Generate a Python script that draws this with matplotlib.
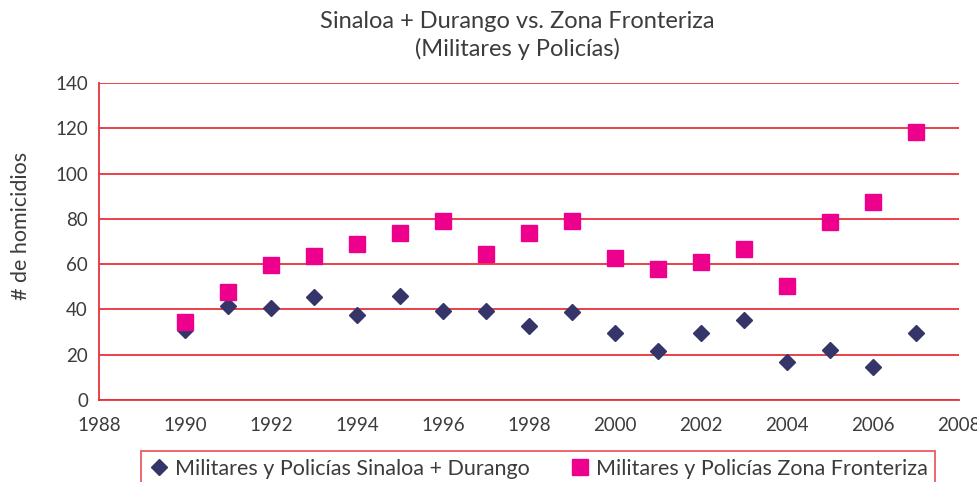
import matplotlib
matplotlib.use("Agg")
import matplotlib.pyplot as plt

years = list(range(1990, 2008))
sinaloa_durango = [31, 41.5, 40.7, 45.5, 37.6, 45.8, 39.5, 39.5, 32.9, 38.9,
                   29.6, 21.7, 29.6, 35.5, 16.9, 22, 14.7, 29.6]
zona_fronteriza = [34.5, 47.9, 59.6, 63.7, 68.7, 73.7, 78.9, 64.5, 73.6, 78.9,
                   62.5, 57.7, 61, 66.8, 50.4, 78.7, 87.4, 118.4]
x_ticks = list(range(1988, 2009, 2))
y_ticks = list(range(0, 141, 20))
label_a = "Militares y Policías Sinaloa + Durango"
label_b = "Militares y Policías Zona Fronteriza"

plt.rcParams['font.family'] = ['Lato', 'DejaVu Sans']
text_color = '#3c3c3c'
red = '#e8303a'

fig = plt.figure(figsize=(9.77, 4.82), dpi=100)
ax = fig.add_axes([99/977, 1 - 400/482, (959 - 99)/977, (400 - 83)/482])

ax.plot(years, sinaloa_durango, linestyle='none', marker='D', markersize=8.5,
        color='#35356a', label=label_a, zorder=3)
ax.plot(years, zona_fronteriza, linestyle='none', marker='s', markersize=11.5,
        color='#ec008c', label=label_b, zorder=3)

ax.set_xlim(1988, 2008)
ax.set_ylim(0, 140)
ax.set_xticks(x_ticks)
ax.set_yticks(y_ticks)
ax.yaxis.grid(True, color=red, linewidth=1.3)
ax.set_axisbelow(True)
for s in ['top', 'right']:
    ax.spines[s].set_visible(False)
for s in ['left', 'bottom']:
    ax.spines[s].set_color(red)
    ax.spines[s].set_linewidth(1.3)
ax.tick_params(axis='y', length=0, labelsize=13.5, colors=text_color, pad=8)
ax.tick_params(axis='x', length=0, labelsize=13.5, colors=text_color, pad=12)
ax.set_ylabel('# de homicidios', fontsize=15.5, color=text_color)
ax.yaxis.set_label_coords(-0.079, 0.55)

fig.text(517/977, 1 - 21/482, 'Sinaloa + Durango vs. Zona Fronteriza',
         ha='center', va='center', fontsize=17, color=text_color)
fig.text(517/977, 1 - 49/482, '(Militares y Policías)',
         ha='center', va='center', fontsize=17, color=text_color)

leg = ax.legend(loc='upper left', bbox_to_anchor=(141/977, 1 - 451/482),
                bbox_transform=fig.transFigure, ncol=2,
                fontsize=15.5, frameon=True, fancybox=False, borderpad=0.35,
                handletextpad=0.25, handlelength=1.0, columnspacing=1.8,
                borderaxespad=0)
leg.get_frame().set_edgecolor(red)
leg.get_frame().set_linewidth(1.3)
for t in leg.get_texts():
    t.set_color(text_color)

fig.savefig('out.png', dpi=100)
